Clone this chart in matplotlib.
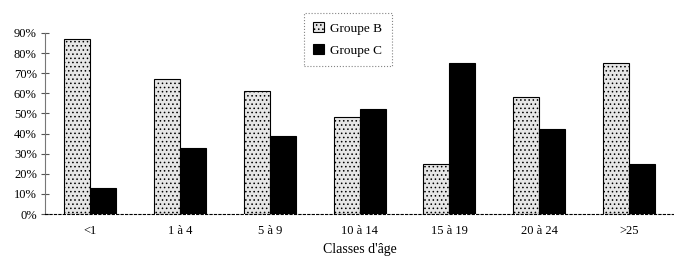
import numpy as np
import matplotlib.pyplot as plt
from matplotlib.ticker import PercentFormatter

plt.rcParams['font.family'] = ['Liberation Serif', 'DejaVu Serif']
plt.rcParams['hatch.color'] = '#808080'
plt.rcParams['hatch.linewidth'] = 0.6

categories = ['<1', '1 à 4', '5 à 9', '10 à 14', '15 à 19', '20 à 24', '>25']
groupe_b = [87, 67, 61, 48, 25, 58, 75]
groupe_c = [13, 33, 39, 52, 75, 42, 25]

x = np.arange(len(categories))
w = 0.29

fig = plt.figure(figsize=(6.74, 2.61), dpi=100)
ax = fig.add_axes([0.067, 0.18, 0.933, 0.694])

ax.bar(x - w / 2, groupe_b, w, color='#e6e6e6', edgecolor='black',
       linewidth=0.8, hatch='....', label='Groupe B')
ax.bar(x + w / 2, groupe_c, w, color='black', edgecolor='black',
       linewidth=0.8, label='Groupe C')

ax.set_xlim(-0.5, len(categories) - 0.5)
ax.set_ylim(0, 90)
ax.set_yticks(np.arange(0, 91, 10))
ax.yaxis.set_major_formatter(PercentFormatter(decimals=0))
ax.set_xticks(x)
ax.set_xticklabels(categories)
ax.tick_params(axis='x', length=0, labelsize=9, pad=8)
ax.tick_params(axis='y', direction='inout', length=6, labelsize=9, pad=3,
               colors='#555555', labelcolor='black')

for s in ['top', 'right']:
    ax.spines[s].set_visible(False)
ax.spines['left'].set_color('#777777')
ax.spines['left'].set_linestyle((0, (2, 1)))
ax.spines['bottom'].set_linestyle((0, (2, 2)))
ax.spines['bottom'].set_linewidth(0.8)

ax.set_xlabel("Classes d'âge", fontsize=10, labelpad=4)

leg = ax.legend(loc='upper left', bbox_to_anchor=(304 / 674, 1 - 13 / 261),
                bbox_transform=fig.transFigure, fontsize=9.5,
                frameon=True, fancybox=False, handlelength=0.8,
                handleheight=0.8, handletextpad=0.5, borderpad=0.7,
                borderaxespad=0, labelspacing=0.7)
leg.get_frame().set_edgecolor('#666666')
leg.get_frame().set_linestyle(':')
leg.get_frame().set_linewidth(0.8)

fig.savefig('out.png', dpi=100)
